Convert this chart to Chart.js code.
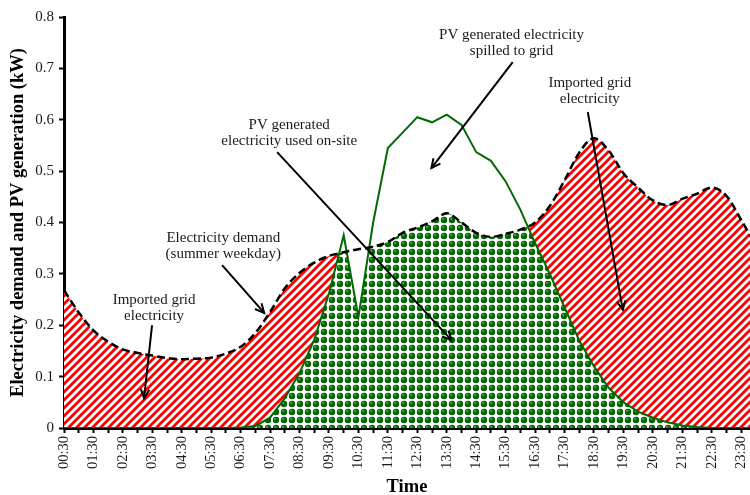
<!DOCTYPE html>
<html>
<head>
<meta charset="utf-8">
<script src="https://cdn.jsdelivr.net/npm/chart.js@4.4.0/dist/chart.umd.min.js"></script>
<style>
  html, body { margin: 0; padding: 0; background: #fff; }
  #wrap { width: 750px; height: 495px; }
</style>
</head>
<body>
<div id="wrap"><canvas id="mychart" width="750" height="495"></canvas></div>
<script>
// half-hourly readings
const timeLabels = ['00:30','01:00','01:30','02:00','02:30','03:00','03:30','04:00','04:30','05:00',
  '05:30','06:00','06:30','07:00','07:30','08:00','08:30','09:00','09:30','10:00',
  '10:30','11:00','11:30','12:00','12:30','13:00','13:30','14:00','14:30','15:00',
  '15:30','16:00','16:30','17:00','17:30','18:00','18:30','19:00','19:30','20:00',
  '20:30','21:00','21:30','22:00','22:30','23:00','23:30','24:00']

// electricity demand (summer weekday), kW
const demand = [0.268,0.225,0.190,0.168,0.153,0.146,0.141,0.136,0.134,0.135,
  0.137,0.145,0.158,0.185,0.226,0.272,0.302,0.322,0.335,0.342,
  0.348,0.353,0.362,0.380,0.390,0.402,0.418,0.400,0.380,0.372,
  0.378,0.386,0.400,0.432,0.482,0.536,0.564,0.540,0.496,0.468,
  0.443,0.434,0.446,0.456,0.468,0.452,0.405,0.355]

// PV generation, kW
const pvGen = [0,0,0,0,0,0,0,0,0,0,
  0,0,0.001,0.004,0.020,0.058,0.107,0.172,0.262,0.375,
  0.216,0.400,0.545,0.575,0.605,0.595,0.610,0.590,0.537,0.520,
  0.480,0.425,0.360,0.300,0.235,0.170,0.120,0.078,0.050,0.032,
  0.020,0.011,0.005,0.002,0,0,0,0]

const yTicks = [0, 0.1, 0.2, 0.3, 0.4, 0.5, 0.6, 0.7, 0.8]

// callouts, positioned in data units (hours, kW)
const notes = [
  { lines: ['Imported grid', 'electricity'], at: [3.56, 0.233], from: [3.49, 0.200], to: [3.22, 0.058] },
  { lines: ['Electricity demand', '(summer weekday)'], at: [5.91, 0.354], from: [5.87, 0.317], to: [7.30, 0.224] },
  { lines: ['PV generated', 'electricity used on-site'], at: [8.15, 0.574], from: [7.74, 0.537], to: [13.66, 0.171] },
  { lines: ['PV generated electricity', 'spilled to grid'], at: [15.70, 0.749], from: [15.74, 0.712], to: [12.98, 0.506] },
  { lines: ['Imported grid', 'electricity'], at: [18.36, 0.656], from: [18.29, 0.615], to: [19.48, 0.230] }
]

function toHours(lbl) {
  const p = lbl.split(':')
  return parseInt(p[0]) + parseInt(p[1]) / 60
}
const hours = timeLabels.map(toHours)
const demandPts = demand.map((v, i) => ({ x: hours[i], y: v }))
const pvPts = pvGen.map((v, i) => ({ x: hours[i], y: v }))
// red hatch only where the grid is imported outside the midday block
const importPts = demand.map((v, i) => ({ x: hours[i], y: (hours[i] > 10 && hours[i] < 15) ? null : v }))

function stripePattern() {
  const c = document.createElement('canvas')
  c.width = 8; c.height = 8
  const g = c.getContext('2d')
  g.fillStyle = '#fff'
  g.fillRect(0, 0, 8, 8)
  g.strokeStyle = '#ff0000'
  g.lineWidth = 2.8
  g.beginPath()
  g.moveTo(-2, 10); g.lineTo(10, -2)
  g.moveTo(-6, 6); g.lineTo(6, -6)
  g.moveTo(2, 14); g.lineTo(14, 2)
  g.stroke()
  return g.createPattern(c, 'repeat')
}

function ballPattern() {
  const c = document.createElement('canvas')
  c.width = 8; c.height = 8
  const g = c.getContext('2d')
  g.fillStyle = '#fff'
  g.fillRect(0, 0, 8, 8)
  g.fillStyle = '#006400'
  g.beginPath(); g.arc(4, 4, 3.2, 0, Math.PI * 2); g.fill()
  g.fillStyle = '#6aa86a'
  g.beginPath(); g.arc(3.2, 2.9, 1, 0, Math.PI * 2); g.fill()
  return g.createPattern(c, 'repeat')
}

const calloutPlugin = {
  id: 'callouts',
  afterDraw(chart) {
    const ctx = chart.ctx
    const xs = chart.scales.x, ys = chart.scales.y
    ctx.save()
    ctx.fillStyle = '#1a1a1a'
    ctx.strokeStyle = '#000'
    ctx.font = '15px "Liberation Serif", "Times New Roman", serif'
    ctx.textAlign = 'center'
    ctx.textBaseline = 'middle'
    notes.forEach(n => {
      const cx = xs.getPixelForValue(n.at[0]), cy = ys.getPixelForValue(n.at[1])
      n.lines.forEach((t, i) => ctx.fillText(t, cx, cy + (i - (n.lines.length - 1) / 2) * 16))
      const x1 = xs.getPixelForValue(n.from[0]), y1 = ys.getPixelForValue(n.from[1])
      const x2 = xs.getPixelForValue(n.to[0]), y2 = ys.getPixelForValue(n.to[1])
      ctx.lineWidth = 2
      ctx.beginPath(); ctx.moveTo(x1, y1); ctx.lineTo(x2, y2); ctx.stroke()
      const a = Math.atan2(y2 - y1, x2 - x1)
      ctx.beginPath()
      ctx.moveTo(x2 - 10 * Math.cos(a - 0.45), y2 - 10 * Math.sin(a - 0.45))
      ctx.lineTo(x2, y2)
      ctx.lineTo(x2 - 10 * Math.cos(a + 0.45), y2 - 10 * Math.sin(a + 0.45))
      ctx.stroke()
    })
    ctx.restore()
  }
}

const serif = '"Liberation Serif", "Times New Roman", serif'

new Chart(document.getElementById('mychart'), {
  type: 'line',
  data: {
    datasets: [
      { label: 'Electricity demand', data: demandPts, borderColor: '#000', borderWidth: 2.5,
        borderDash: [8, 4], fill: false, cubicInterpolationMode: 'monotone', pointRadius: 0 },
      { label: 'PV generation', data: pvPts, borderColor: '#006a00', borderWidth: 2,
        fill: false, tension: 0, pointRadius: 0 },
      { label: 'spilled', data: pvPts, borderWidth: 0, borderColor: 'rgba(0,0,0,0)', tension: 0, pointRadius: 0,
        fill: { target: 0, above: '#ffffff', below: 'rgba(0,0,0,0)' } },
      { label: 'used on-site', data: pvPts, borderWidth: 0, borderColor: 'rgba(0,0,0,0)', tension: 0, pointRadius: 0,
        backgroundColor: ballPattern(), fill: 'origin' },
      { label: 'imported', data: importPts, borderWidth: 0, borderColor: 'rgba(0,0,0,0)', pointRadius: 0,
        cubicInterpolationMode: 'monotone', backgroundColor: stripePattern(), fill: 'origin', spanGaps: false }
    ]
  },
  options: {
    responsive: false,
    animation: false,
    layout: { padding: { top: 17, right: 0, left: 0, bottom: 0 } },
    plugins: { legend: { display: false }, tooltip: { enabled: false } },
    scales: {
      x: {
        type: 'linear',
        min: 0.5,
        max: 23.8,
        afterFit: s => { s.height = 67; s.paddingRight = 0; s.paddingLeft = 0 },
        afterBuildTicks: s => { s.ticks = hours.filter(h => h <= 23.8).map(h => ({ value: h })) },
        grid: { drawOnChartArea: false, drawTicks: true, tickLength: 5, tickWidth: 2, tickColor: '#000' },
        border: { display: true, color: '#000', width: 3 },
        ticks: {
          autoSkip: false, minRotation: 90, maxRotation: 90, padding: 3, color: '#1a1a1a',
          font: { family: serif, size: 14.5 },
          callback: (v, i) => timeLabels[i].endsWith(':30') ? timeLabels[i] : ''
        },
        title: { display: true, text: 'Time', color: '#000', padding: { top: 0, bottom: -3 },
          font: { family: serif, size: 18.5, weight: 'bold' } }
      },
      y: {
        min: 0,
        max: 0.8,
        afterFit: s => { s.width = 64 },
        afterBuildTicks: s => { s.ticks = yTicks.map(v => ({ value: v })) },
        grid: { drawOnChartArea: false, drawTicks: true, tickLength: 5, tickWidth: 2, tickColor: '#000' },
        border: { display: true, color: '#000', width: 3 },
        ticks: {
          padding: 5, color: '#1a1a1a', font: { family: serif, size: 15 },
          callback: v => v === 0 ? '0' : v.toFixed(1)
        },
        title: { display: true, text: 'Electricity demand and PV generation (kW)', color: '#000',
          padding: { top: 7, bottom: 0 }, font: { family: serif, size: 18.5, weight: 'bold' } }
      }
    }
  },
  plugins: [calloutPlugin]
})
</script>
</body>
</html>
